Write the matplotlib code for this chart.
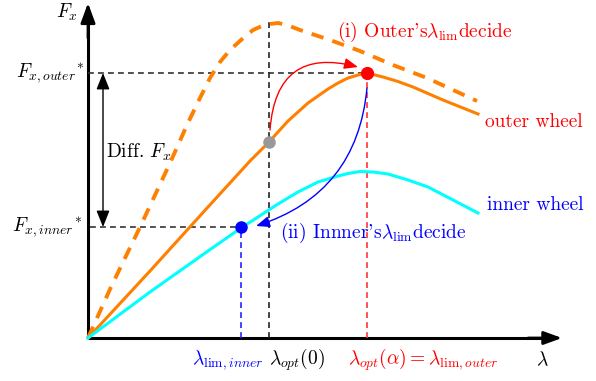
import matplotlib
matplotlib.use("Agg")
import matplotlib.pyplot as plt

plt.rcParams['font.family'] = ['cmr10', 'DejaVu Serif']
plt.rcParams['mathtext.fontset'] = 'cm'
plt.rcParams['font.size'] = 14

# curves (slip ratio lambda vs longitudinal force Fx)
ideal_lam = [0, 0.23, 0.53, 0.82, 0.99, 1.10, 1.22, 1.32, 1.42, 1.53, 1.65, 1.74, 1.82, 1.90,
             1.99, 2.12, 2.27, 2.42, 2.72, 3.05, 3.39, 3.89]
ideal_F = [0, 0.51, 1.13, 1.75, 2.13, 2.36, 2.60, 2.76, 2.88, 2.98, 3.08, 3.12, 3.14, 3.15,
           3.13, 3.08, 3.03, 2.98, 2.87, 2.73, 2.60, 2.37]

outer_lam = [0, 0.62, 1.20, 1.62, 1.72, 1.81, 1.90, 2.00, 2.10, 2.20, 2.30, 2.40, 2.50, 2.60,
             2.70, 2.79, 2.95, 3.10, 3.25, 3.40, 3.55, 3.70, 3.90]
outer_F = [0, 0.67, 1.31, 1.77, 1.87, 1.96, 2.06, 2.17, 2.26, 2.35, 2.42, 2.49, 2.55, 2.60,
           2.63, 2.65, 2.61, 2.565, 2.51, 2.445, 2.38, 2.32, 2.24]

inner_lam = [0, 0.62, 1.20, 1.53, 1.70, 1.90, 2.10, 2.30, 2.50, 2.60, 2.72, 2.85, 3.00, 3.20,
             3.40, 3.65, 3.90]
inner_F = [0, 0.46, 0.87, 1.10, 1.21, 1.34, 1.46, 1.56, 1.62, 1.645, 1.665, 1.66, 1.64, 1.58,
           1.51, 1.38, 1.25]

# key points
lam_lim_inner = 1.53
lam_opt0 = 1.81
lam_lim_outer = 2.79
Fx_outer = 2.65
Fx_inner = 1.11
F_gray = 1.96

fig = plt.figure(figsize=(5.96, 3.81), dpi=100)
ax = fig.add_axes([0, 0, 1, 1])
ax.set_xlim(-0.88, 5.08)
ax.set_ylim(-0.43, 3.38)
ax.axis('off')

# axes with arrows
ax.plot([0, 0], [0, 3.2], color='black', lw=2.2, solid_capstyle='butt')
ax.plot([0, 4.6], [0, 0], color='black', lw=2.2, solid_capstyle='butt')
ax.annotate("", xy=(0, 3.35), xytext=(0, 3.0),
            arrowprops=dict(arrowstyle="-|>,head_length=0.6,head_width=0.22",
                            mutation_scale=20, color='black', lw=2, shrinkA=0, shrinkB=0))
ax.annotate("", xy=(4.74, 0), xytext=(4.4, 0),
            arrowprops=dict(arrowstyle="-|>,head_length=0.55,head_width=0.2",
                            mutation_scale=20, color='black', lw=2, shrinkA=0, shrinkB=0))

# guide lines
dash = (0, (3.5, 2.5))
ax.plot([0, lam_lim_outer], [Fx_outer, Fx_outer], color='#333333', lw=1.2, linestyle=dash)
ax.plot([0.02, lam_lim_inner], [Fx_inner, Fx_inner], color='#333333', lw=1.2, linestyle=dash)
ax.plot([lam_opt0, lam_opt0], [0, 3.20], color='#222222', lw=1.2, linestyle=dash)
ax.plot([lam_lim_outer, lam_lim_outer], [0, Fx_outer], color='#ff3333', lw=1.2, linestyle=dash)
ax.plot([lam_lim_inner, lam_lim_inner], [0, Fx_inner], color='#2222ff', lw=1.2, linestyle=dash)

# curves
ax.plot(ideal_lam, ideal_F, color='#ff8000', lw=2.8, linestyle=(0, (3.2, 2.4)))
ax.plot(outer_lam, outer_F, color='#ff8000', lw=2.2, solid_joinstyle='round')
ax.plot(inner_lam, inner_F, color='#00ffff', lw=2.2, solid_joinstyle='round')

# points
ax.plot(lam_lim_outer, Fx_outer, 'o', color='red', ms=8.5, zorder=5)
ax.plot(lam_opt0, F_gray, 'o', color='#999999', ms=8, zorder=5)
ax.plot(lam_lim_inner, Fx_inner, 'o', color='blue', ms=8, zorder=5)

# Diff arrow
ax.annotate("", xy=(0.15, Fx_outer), xytext=(0.15, Fx_inner),
            arrowprops=dict(arrowstyle="<|-|>,head_length=0.5,head_width=0.2",
                            mutation_scale=20, color='black', lw=1, shrinkA=0, shrinkB=0))
ax.text(0.18, 1.86, r"Diff. $F_x$", ha='left', va='center')

# curved arrows
ax.annotate("", xy=(2.70, 2.71), xytext=(1.82, 2.08),
            arrowprops=dict(arrowstyle="-|>,head_length=0.55,head_width=0.22",
                            mutation_scale=15, color='red', lw=1,
                            connectionstyle="arc3,rad=-0.6", shrinkA=0, shrinkB=0))
ax.annotate("", xy=(1.68, 1.12), xytext=(2.79, 2.50),
            arrowprops=dict(arrowstyle="-|>,head_length=0.55,head_width=0.22",
                            mutation_scale=15, color='blue', lw=1,
                            connectionstyle="arc3,rad=-0.33", shrinkA=0, shrinkB=0))

# labels
ax.text(-0.21, 3.26, r"$F_x$", ha='center', va='center')
ax.text(-0.04, Fx_outer, r"$F_{x,outer}{}^{*}$", ha='right', va='center')
ax.text(-0.06, Fx_inner, r"$F_{x,inner}{}^{*}$", ha='right', va='center')
ax.text(2.49, 3.06, r"(i) Outer's$\lambda_{\rm lim}$decide", color='red', ha='left', va='center')
ax.text(3.97, 2.16, "outer wheel", color='red', ha='left', va='center')
ax.text(3.99, 1.33, "inner wheel", color='blue', ha='left', va='center')
ax.text(1.92, 1.05, r"(ii) Innner's$\lambda_{\rm lim}$decide", color='blue', ha='left', va='center')

ax.text(1.40, -0.22, r"$\lambda_{\mathrm{lim},inner}$", color='blue', ha='center', va='center')
ax.text(2.09, -0.22, r"$\lambda_{opt}(0)$", color='black', ha='center', va='center')
ax.text(3.35, -0.22, r"$\lambda_{opt}(\alpha) = \lambda_{\mathrm{lim},outer}$", color='red', ha='center', va='center')
ax.text(4.54, -0.22, r"$\lambda$", ha='center', va='center')

fig.savefig("out.png", dpi=100)
